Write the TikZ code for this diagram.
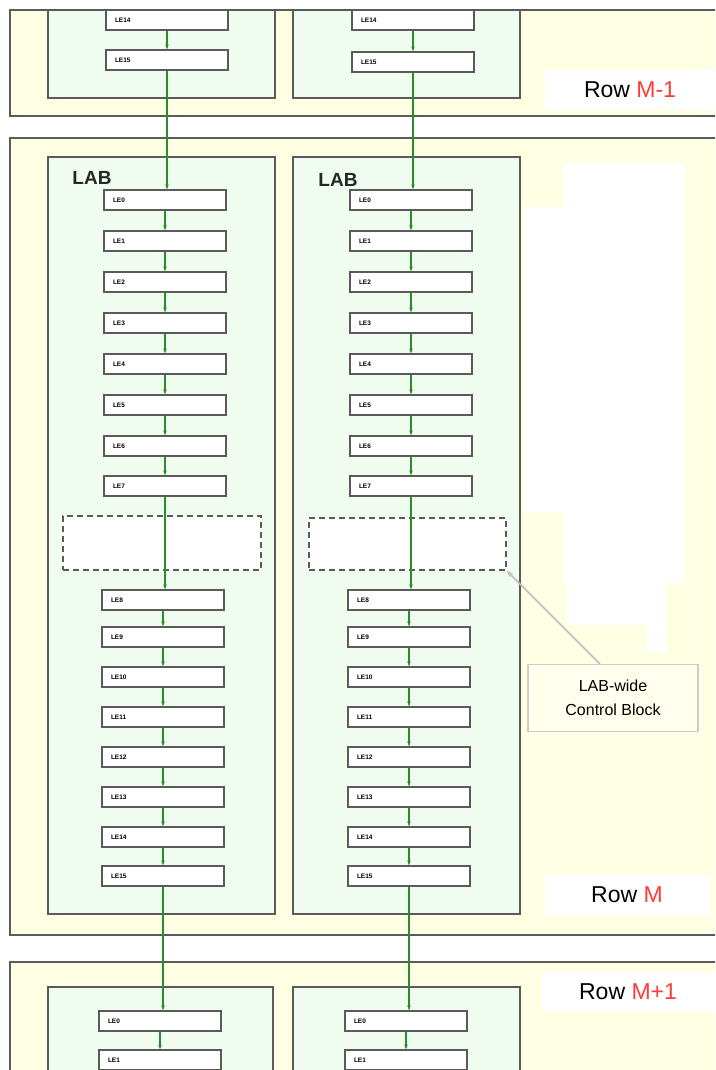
\documentclass[tikz,border=0pt]{standalone}
\usepackage{fontspec}
\setmainfont{Liberation Sans}
\usetikzlibrary{arrows.meta}
\definecolor{rowbg}{HTML}{FFFFE3}
\definecolor{labbg}{HTML}{F0FCF0}
\definecolor{wire}{HTML}{2A8C2A}
\definecolor{edge}{HTML}{5A5A5A}
\definecolor{mred}{HTML}{FF3B3B}
\begin{document}
\begin{tikzpicture}[x=1pt,y=-1pt,
  rowbox/.style={draw=edge,line width=1.4pt,fill=rowbg},
  labbox/.style={draw=edge,line width=1.2pt,fill=labbg},
  lebox/.style={draw=edge,line width=1.1pt,fill=white,rectangle,
    minimum height=20pt,inner ysep=0pt,inner xsep=9pt,text width=104pt,align=left,
    font=\fontsize{6.5}{7}\selectfont\bfseries},
  wireline/.style={draw=wire,line width=1.1pt,-{Stealth[length=5pt,width=3.5pt]}},
  dashbox/.style={draw=edge,line width=1.2pt,dashed,dash pattern=on 6pt off 4pt,fill=white,rectangle,inner sep=0pt},
  rowlabel/.style={fill=white,rectangle,inner sep=0pt,font=\fontsize{23}{24}\selectfont},
  labtitle/.style={font=\fontsize{19}{20}\selectfont\bfseries,text=black!85},
  cbbox/.style={draw=gray!40,line width=1.1pt,fill=rowbg!60!white,rectangle,align=center,
    minimum width=170pt,minimum height=67pt,inner sep=0pt,font=\fontsize{16}{24}\selectfont},
  callout/.style={draw=gray!50,line width=1.5pt,-{Stealth[length=7pt,width=5pt]}}
]
\useasboundingbox (0,0) rectangle (715,1070);
\fill[white] (0,0) rectangle (715,1070);
\clip (0,0) rectangle (715,1070);

% rows
\draw[rowbox] (10,10) rectangle (730,116);
\draw[rowbox] (10,138) rectangle (730,935);
\draw[rowbox] (10,962) rectangle (730,1090);

% white area in row M
\fill[white] (563,163) -- (685,163) -- (685,583) -- (666,583) -- (666,652) -- (647,652)
  -- (647,625) -- (567,625) -- (567,583) -- (563,583) -- (563,512) -- (525,512)
  -- (525,207) -- (563,207) -- cycle;

% LABs
\draw[labbox] (48,10) rectangle (275,98);
\draw[labbox] (293,10) rectangle (520,98);
\draw[labbox] (48,157) rectangle (275,914);
\draw[labbox] (293,157) rectangle (520,914);
\draw[labbox] (48,987) rectangle (273,1090);
\draw[labbox] (293,987) rectangle (520,1090);

\node[labtitle] (labL) at (92,178) {LAB};
\node[labtitle] (labR) at (338,180) {LAB};

% dashed control blocks
\node[dashbox,minimum width=198pt,minimum height=54pt] (dashL) at (162,543) {};
\node[dashbox,minimum width=197pt,minimum height=52pt] (dashR) at (407.5,544) {};

% Row M-1 LEs
\node[lebox] (pL14) at (167,20) {LE14};
\node[lebox] (pL15) at (167,60) {LE15};
\node[lebox] (pR14) at (413,20) {LE14};
\node[lebox] (pR15) at (413,62) {LE15};

% Row M LEs
\foreach \i/\y in {0/200,1/241,2/282,3/323,4/364,5/405,6/446,7/486}{
  \node[lebox] (L\i) at (165,\y) {LE\i};
  \node[lebox] (R\i) at (411,\y) {LE\i};
}
\foreach \i/\y in {8/600,9/637,10/677,11/717,12/757,13/797,14/837,15/876}{
  \node[lebox] (L\i) at (163,\y) {LE\i};
  \node[lebox] (R\i) at (409,\y) {LE\i};
}

% Row M+1 LEs
\node[lebox] (nL0) at (160,1021) {LE0};
\node[lebox] (nL1) at (160,1060) {LE1};
\node[lebox] (nR0) at (406,1021) {LE0};
\node[lebox] (nR1) at (406,1060) {LE1};

% wires
\draw[wireline] (pL14.south) -- (pL14.south |- pL15.north);
\draw[wireline] (pR14.south) -- (pR14.south |- pR15.north);
\draw[wireline] (pL15.south) -- (pL15.south |- L0.north);
\draw[wireline] (pR15.south) -- (pR15.south |- R0.north);
\foreach \i in {0,...,14}{
  \pgfmathtruncatemacro{\j}{\i+1}
  \draw[wireline] (L\i.south) -- (L\i.south |- L\j.north);
  \draw[wireline] (R\i.south) -- (R\i.south |- R\j.north);
}
\draw[wireline] (L15.south) -- (L15.south |- nL0.north);
\draw[wireline] (R15.south) -- (R15.south |- nR0.north);
\draw[wireline] (nL0.south) -- (nL0.south |- nL1.north);
\draw[wireline] (nR0.south) -- (nR0.south |- nR1.north);

% row labels
\node[rowlabel,minimum width=170pt,minimum height=40pt] (rowM1) at (630,90) {Row \textcolor{mred}{M-1}};
\node[rowlabel,minimum width=165pt,minimum height=40pt] (rowM) at (627,895) {Row \textcolor{mred}{M}};
\node[rowlabel,minimum width=173pt,minimum height=40pt] (rowM2) at (628,992) {Row \textcolor{mred}{M+1}};

% control block callout
\node[cbbox] (cb) at (613,698) {LAB-wide\\Control Block};
\draw[callout] ([xshift=-13pt]cb.north) -- (dashR.south east);
\end{tikzpicture}
\end{document}
